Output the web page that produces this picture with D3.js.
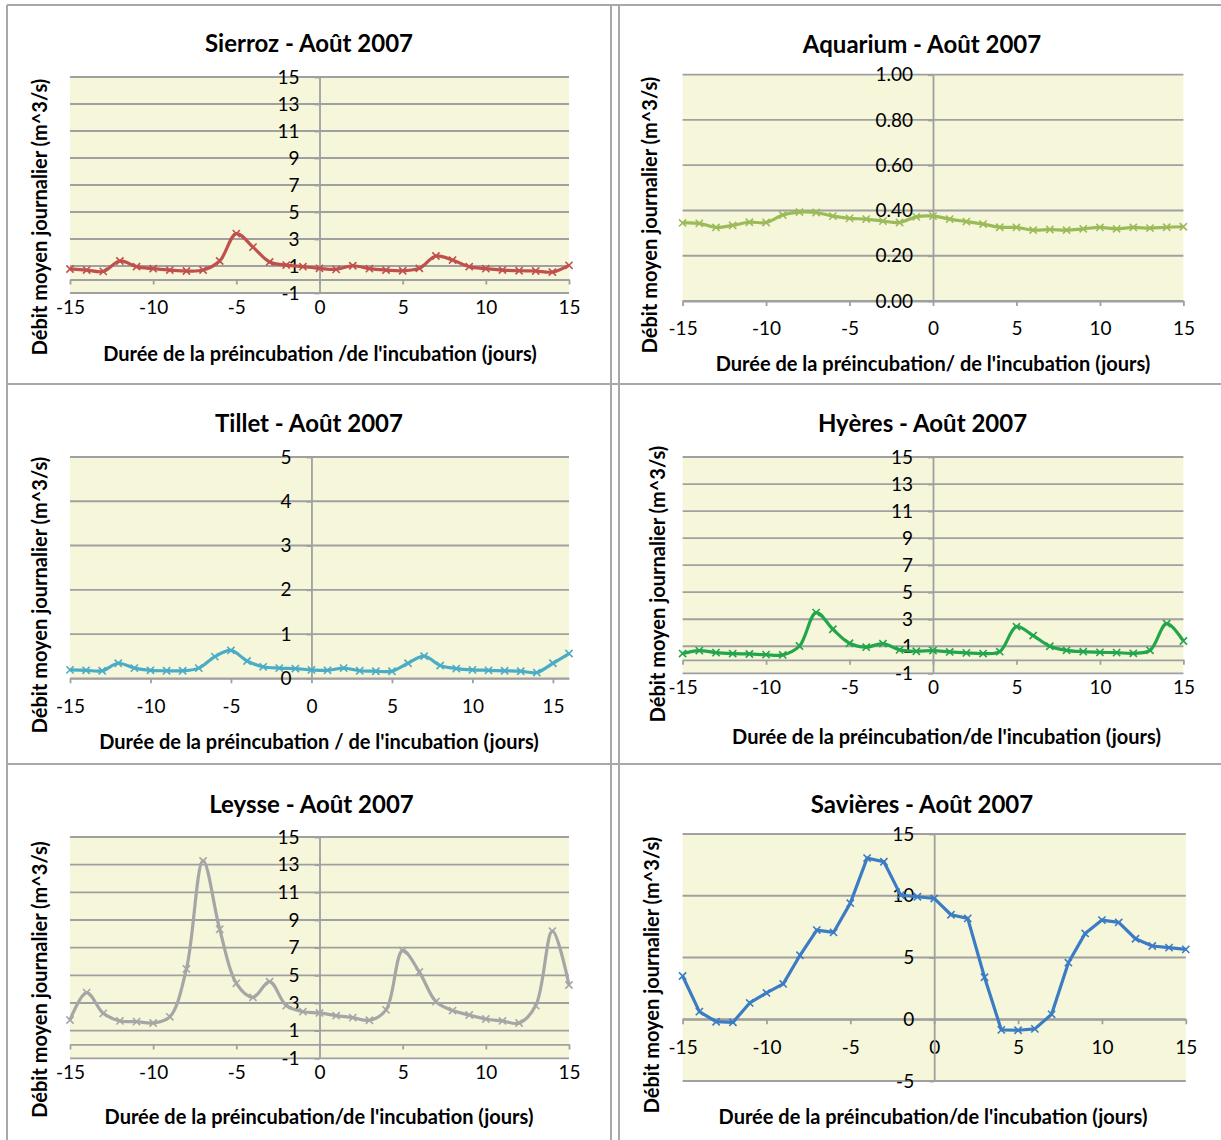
<!DOCTYPE html>
<html><head><meta charset="utf-8">
<script src="https://cdn.jsdelivr.net/npm/d3@7"></script>
<style>body{margin:0;background:#fff}svg{display:block}</style>
</head><body>
<svg id="c" width="1221" height="1140"></svg>
<script>
// ---------- data ----------
const days = [-15,-14,-13,-12,-11,-10,-9,-8,-7,-6,-5,-4,-3,-2,-1,0,1,2,3,4,5,6,7,8,9,10,11,12,13,14,15];
const daysTillet = [-15,-14,-13,-12,-11,-10,-9,-8,-7,-6,-5,-4,-3,-2,-1,0,1,2,3,4,5,6,7,8,9,10,11,12,13,14,15,16];
const sierroz = [0.78,0.7,0.6,1.37,0.95,0.8,0.7,0.63,0.7,1.37,3.4,2.4,1.3,1.07,0.95,0.83,0.75,1.02,0.8,0.7,0.65,0.83,1.74,1.44,0.95,0.8,0.7,0.65,0.63,0.55,1.05];
const aquarium = [0.345,0.343,0.325,0.334,0.348,0.347,0.38,0.393,0.391,0.375,0.365,0.362,0.353,0.347,0.372,0.375,0.362,0.351,0.34,0.326,0.325,0.313,0.316,0.313,0.319,0.325,0.319,0.325,0.322,0.326,0.328];
const tillet = [0.19,0.18,0.17,0.34,0.23,0.18,0.17,0.17,0.23,0.49,0.63,0.39,0.26,0.23,0.22,0.19,0.18,0.23,0.17,0.16,0.16,0.34,0.5,0.29,0.22,0.19,0.18,0.17,0.16,0.13,0.34,0.56];
const hyeres = [0.46,0.68,0.53,0.46,0.43,0.38,0.36,1.02,3.49,2.26,1.22,0.93,1.2,0.73,0.63,0.68,0.58,0.51,0.46,0.6,2.45,1.79,1.0,0.7,0.6,0.55,0.53,0.48,0.7,2.67,1.39];
const leysse = [1.77,3.75,2.25,1.7,1.65,1.55,2.0,5.46,13.27,8.33,4.42,3.41,4.54,2.81,2.37,2.28,2.08,1.94,1.75,2.5,6.78,5.24,3.1,2.45,2.13,1.84,1.7,1.55,2.81,8.2,4.3];
const savieres = [3.5,0.62,-0.2,-0.25,1.32,2.13,2.86,5.18,7.22,7.03,9.4,13.05,12.75,10.05,9.92,9.78,8.46,8.17,3.4,-0.86,-0.89,-0.78,0.4,4.58,6.95,8.03,7.84,6.52,5.93,5.8,5.66];

const xTicks = [-15,-10,-5,0,5,10,15];
const yTicksStd = [-1,1,3,5,7,9,11,13,15];
const yTicksAquarium = [0,0.2,0.4,0.6,0.8,1.0];
const yTicksTillet = [0,1,2,3,4,5];
const yTicksSavieres = [-5,0,5,10,15];

const titles = ["Sierroz - Août 2007","Aquarium - Août 2007","Tillet - Août 2007","Hyères - Août 2007","Leysse - Août 2007","Savières - Août 2007"];
const xTitles = ["Durée de la préincubation /de l'incubation (jours)",
  "Durée de la préincubation/ de l'incubation (jours)",
  "Durée de la préincubation / de l'incubation (jours)",
  "Durée de la préincubation/de l'incubation (jours)",
  "Durée de la préincubation/de l'incubation (jours)",
  "Durée de la préincubation/de l'incubation (jours)"];
const yTitle = "Débit moyen journalier (m^3/s)";
const colors = ["#c0504d","#9bbb59","#4bacc6","#22a64a","#a6a6a6","#3b7cc4"];

// ---------- layout ----------
const intFmt = d => String(d);           // plain hyphen-minus like the original
const decFmt = d => d.toFixed(2);
const panels = [
  {x:days, y:sierroz, yd:[-1,15], yt:yTicksStd, xd:[-15,15], fmt:intFmt, box:[70,569,77,293], tt:[309,42], xt:[320,353], ytt:[39,217], smooth:true},
  {x:days, y:aquarium, yd:[0,1], yt:yTicksAquarium, xd:[-15,15], fmt:decFmt, box:[682.6,1183.4,74.7,301], tt:[922,43], xt:[933,362.5], ytt:[649,215], smooth:true},
  {x:daysTillet, y:tillet, yd:[0,5], yt:yTicksTillet, xd:[-15,16], fmt:intFmt, box:[70,569,457,678.3], tt:[309,422], xt:[319,741], ytt:[39,595], smooth:true},
  {x:days, y:hyeres, yd:[-1,15], yt:yTicksStd, xd:[-15,15], fmt:intFmt, box:[682.6,1183.4,457,673.3], tt:[922.5,422], xt:[946.5,735.5], ytt:[657,584], smooth:true},
  {x:days, y:leysse, yd:[-1,15], yt:yTicksStd, xd:[-15,15], fmt:intFmt, box:[70,569,837,1058.3], tt:[311.5,803], xt:[319,1115.5], ytt:[39,979.5], smooth:true},
  {x:days, y:savieres, yd:[-5,15], yt:yTicksSavieres, xd:[-15,15], fmt:intFmt, box:[682.6,1185.8,834,1081], tt:[922,803], xt:[933,1115.5], ytt:[651,975], smooth:false}
];

const svg = d3.select("#c");
const FONT = "Lato, 'Open Sans', sans-serif";
const GRID = "#a0a0a0";

// panel borders
const bc = "#a8a8a8";
[7,611,619].forEach(x=>svg.append("line").attr("x1",x).attr("x2",x).attr("y1",5).attr("y2",1140).attr("stroke",bc).attr("stroke-width",2));
[5,384,764].forEach(y=>svg.append("line").attr("x1",7).attr("x2",1221).attr("y1",y).attr("y2",y).attr("stroke",bc).attr("stroke-width",2));

panels.forEach((p,i)=>{
  const [l,r,t,b] = p.box;
  const xs = d3.scaleLinear().domain(p.xd).range([l,r]);
  const ys = d3.scaleLinear().domain(p.yd).range([b,t]);
  const g = svg.append("g");
  g.append("rect").attr("x",l).attr("y",t).attr("width",r-l).attr("height",b-t).attr("fill","#f6f6da");
  // gridlines
  g.selectAll(".gl").data(p.yt).join("line")
    .attr("x1",l).attr("x2",r).attr("y1",d=>ys(d)).attr("y2",d=>ys(d))
    .attr("stroke",GRID).attr("stroke-width",1.8);
  // x axis at y=0
  const xAx = d3.axisBottom(xs).tickValues(xTicks).tickSize(5).tickSizeOuter(0).tickPadding(16).tickFormat(intFmt);
  const xg = g.append("g").attr("transform",`translate(0,${ys(Math.max(p.yd[0],0))})`).call(xAx);
  // y axis at x=0
  const yAx = d3.axisLeft(ys).tickValues(p.yt).tickSize(5).tickSizeOuter(0).tickPadding(15).tickFormat(p.fmt);
  const yg = g.append("g").attr("transform",`translate(${xs(0)},0)`).call(yAx);
  [xg,yg].forEach(a=>{
    a.selectAll("path,line").attr("stroke",GRID).attr("stroke-width",1.8);
    a.selectAll("text").attr("fill","#000").style("font-family",FONT).style("font-size","19px");
  });
  // line
  const line = d3.line().x((d,j)=>xs(p.x[j])).y(d=>ys(d)).curve(p.smooth? d3.curveCatmullRom.alpha(0.5) : d3.curveLinear);
  g.append("path").datum(p.y).attr("d",line).attr("fill","none").attr("stroke",colors[i]).attr("stroke-width",3.2).attr("stroke-linejoin","round");
  // x markers
  const s = 3.6;
  g.selectAll(".mk").data(p.y).join("path")
    .attr("d",(d,j)=>{const cx=xs(p.x[j]), cy=ys(d); return `M${cx-s},${cy-s}L${cx+s},${cy+s}M${cx-s},${cy+s}L${cx+s},${cy-s}`;})
    .attr("stroke",colors[i]).attr("stroke-width",1.6).attr("fill","none");
  // titles
  g.append("text").attr("x",p.tt[0]).attr("y",p.tt[1]).attr("text-anchor","middle").attr("dominant-baseline","central")
    .style("font-family",FONT).style("font-weight","bold").style("font-size","24px").text(titles[i]);
  g.append("text").attr("x",p.xt[0]).attr("y",p.xt[1]).attr("text-anchor","middle").attr("dominant-baseline","central")
    .style("font-family",FONT).style("font-weight","bold").style("font-size","20px").text(xTitles[i]);
  g.append("text").attr("transform",`translate(${p.ytt[0]},${p.ytt[1]}) rotate(-90)`).attr("text-anchor","middle").attr("dominant-baseline","central")
    .style("font-family",FONT).style("font-weight","bold").style("font-size","20px").text(yTitle);
});
</script>
</body></html>
